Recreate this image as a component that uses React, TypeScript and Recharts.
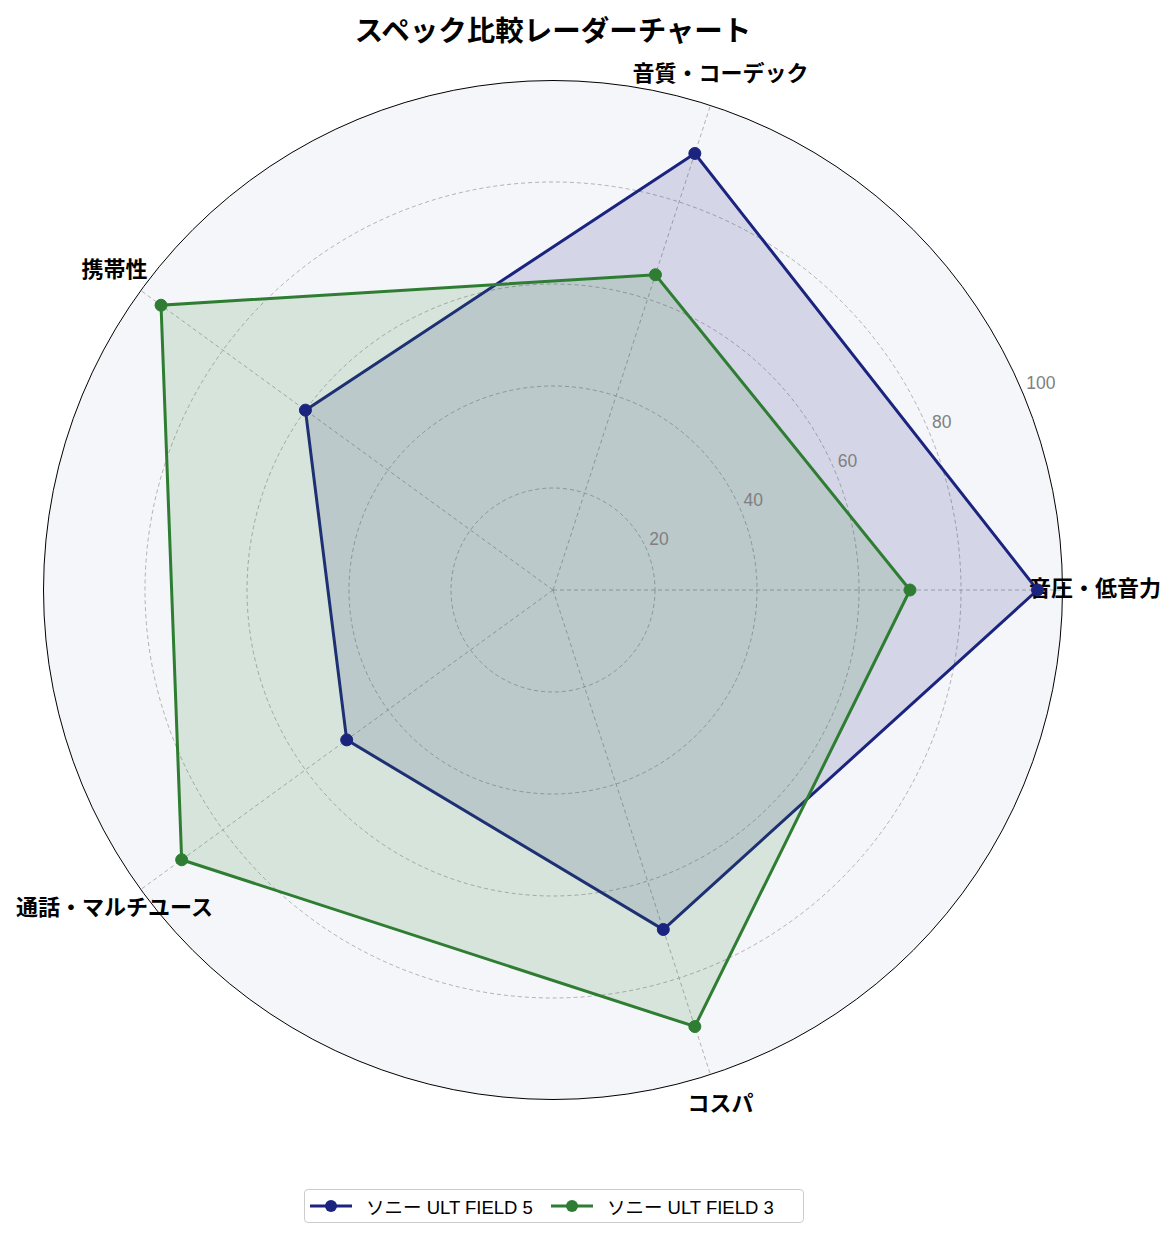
import React from "react";
import {
  RadarChart,
  Radar,
  PolarGrid,
  PolarAngleAxis,
  PolarRadiusAxis,
} from "recharts";

// listed clockwise starting from the right-hand axis
const categories = ["音圧・低音力", "コスパ", "通話・マルチユース", "携帯性", "音質・コーデック"];
const field5 = [95, 70, 50, 60, 90];
const field3 = [70, 90, 90, 95, 65];
const radiusTicks = [20, 40, 60, 80, 100];

const series = [
  { key: "field5", name: "ソニー ULT FIELD 5", color: "#1a237e" },
  { key: "field3", name: "ソニー ULT FIELD 3", color: "#2e7d32" },
];

const data = categories.map((c, i) => ({ cat: c, field5: field5[i], field3: field3[i] }));

const FONT = '"Noto Sans CJK JP", "Noto Sans", sans-serif';
const LATIN = '"Liberation Sans", "Noto Sans CJK JP", sans-serif';
const CX = 553;
const CY = 590;
const R = 510;

function AngleTick(props: any) {
  const { x, y, payload } = props;
  return (
    <text
      x={x}
      y={y - 4}
      textAnchor="middle"
      dominantBaseline="central"
      fontFamily={FONT}
      fontWeight="bold"
      fontSize={22}
      fill="#000"
    >
      {payload.value}
    </text>
  );
}

function RadiusTick(props: any) {
  const { x, y, payload } = props;
  return (
    <text
      x={x + 2}
      y={y - 12}
      textAnchor="start"
      dominantBaseline="central"
      fontFamily={LATIN}
      fontSize={17.5}
      fill="#808080"
    >
      {payload.value}
    </text>
  );
}

export default function App() {
  return (
    <div style={{ position: "absolute", left: 0, top: 0, width: 1176, height: 1239, background: "#fff", fontFamily: FONT }}>
      <div
        style={{
          position: "absolute",
          left: 0,
          width: 1106,
          top: 9,
          textAlign: "center",
          fontSize: 28.5,
          fontWeight: "bold",
          lineHeight: "40px",
        }}
      >
        スペック比較レーダーチャート
      </div>
      <div
        style={{
          position: "absolute",
          left: CX - R,
          top: CY - R,
          width: R * 2,
          height: R * 2,
          borderRadius: "50%",
          background: "#f5f6fa",
          boxSizing: "border-box",
          border: "1.3px solid #000",
        }}
      />
      <div style={{ position: "absolute", left: 0, top: 0 }}>
        <RadarChart
          width={1176}
          height={1180}
          data={data}
          cx={CX}
          cy={CY}
          outerRadius={R}
          startAngle={0}
          endAngle={-360}
        >
          <PolarGrid
            gridType="circle"
            polarRadius={[102, 204, 306, 408]}
            stroke="#a0a0a0"
            strokeDasharray="4 3"
            strokeWidth={0.8}
          />
          <PolarAngleAxis
            dataKey="cat"
            tick={<AngleTick />}
            tickLine={false}
            axisLine={false}
            tickSize={32}
          />
          <PolarRadiusAxis
            angle={22.5}
            domain={[0, 100]}
            ticks={radiusTicks}
            tick={<RadiusTick />}
            axisLine={false}
            tickLine={false}
          />
          {series.map((s) => (
            <Radar
              key={s.key}
              dataKey={s.key}
              name={s.name}
              stroke={s.color}
              strokeWidth={3}
              fill={s.color}
              fillOpacity={0.15}
              dot={{ r: 6, fill: s.color, stroke: s.color, strokeWidth: 1, fillOpacity: 1 }}
              isAnimationActive={false}
            />
          ))}
        </RadarChart>
      </div>
      <div
        style={{
          position: "absolute",
          left: 304,
          top: 1189,
          width: 500,
          height: 34,
          boxSizing: "border-box",
          border: "1px solid #cccccc",
          borderRadius: 4,
          display: "flex",
          alignItems: "center",
          paddingLeft: 5,
          background: "#fff",
        }}
      >
        {series.map((s, i) => (
          <div key={s.key} style={{ display: "flex", alignItems: "center", marginRight: i === 0 ? 18 : 0 }}>
            <svg width={42} height={14}>
              <line x1={0} y1={7} x2={42} y2={7} stroke={s.color} strokeWidth={3} />
              <circle cx={21} cy={7} r={6} fill={s.color} />
            </svg>
            <span style={{ marginLeft: 14, fontSize: 18.5, fontFamily: LATIN, color: "#000", whiteSpace: "nowrap" }}>
              {s.name}
            </span>
          </div>
        ))}
      </div>
    </div>
  );
}
